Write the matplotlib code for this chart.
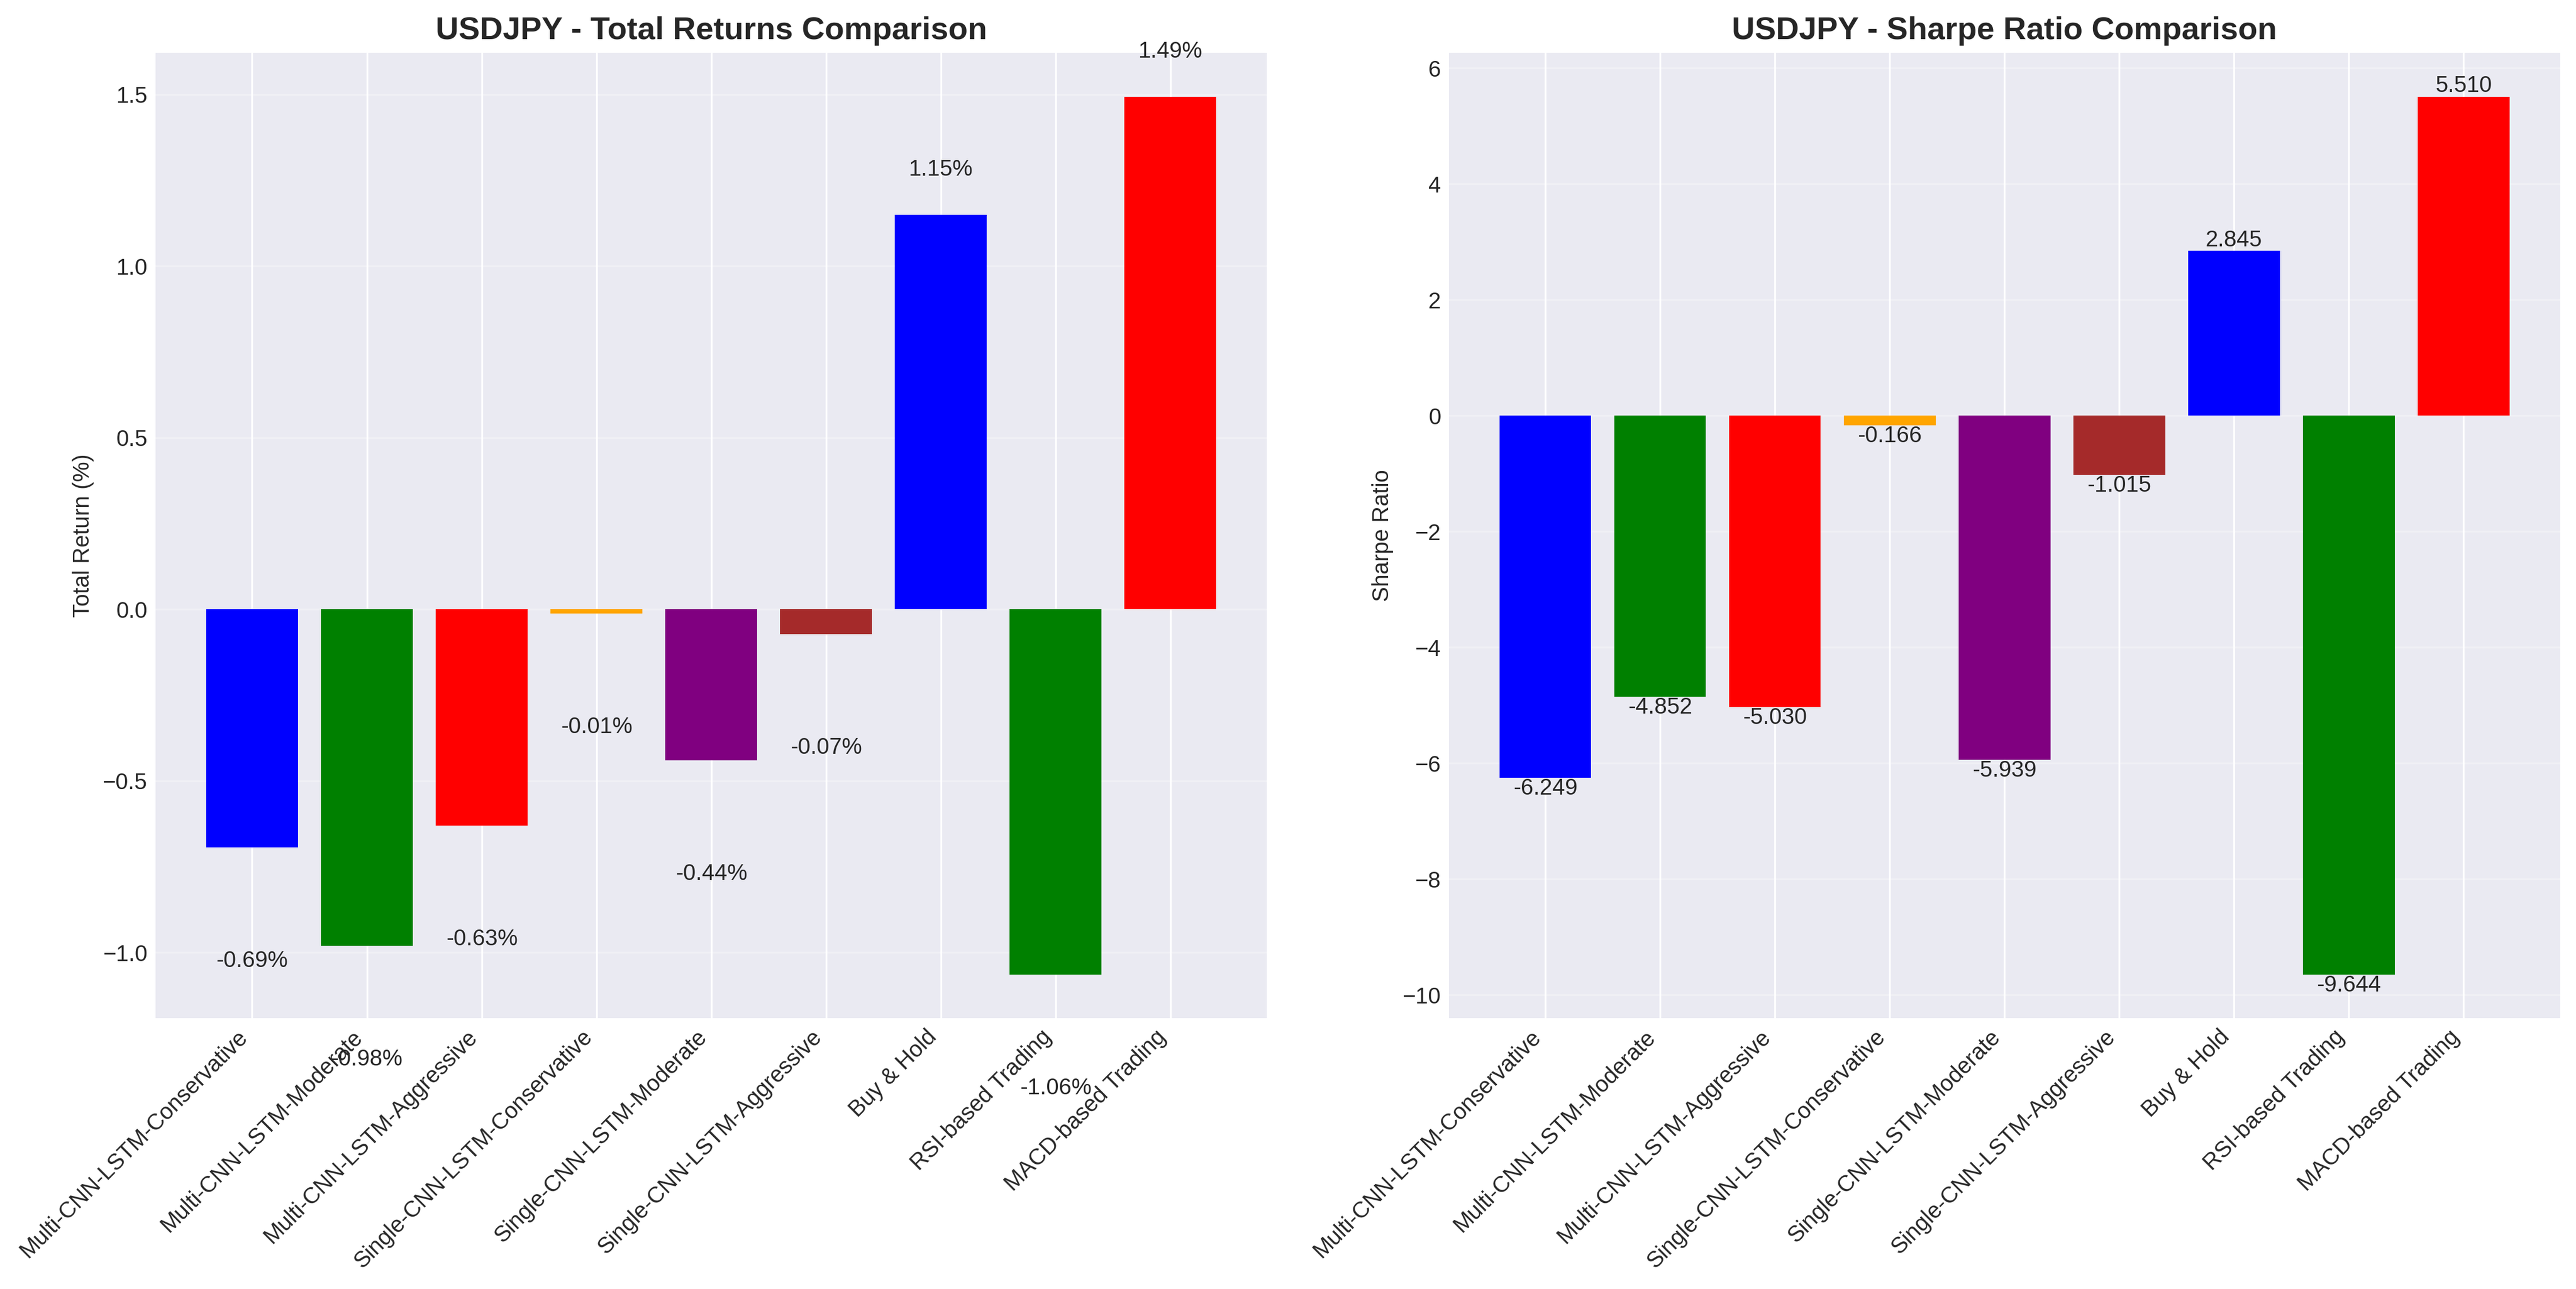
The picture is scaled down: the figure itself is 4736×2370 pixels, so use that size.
import matplotlib
matplotlib.use('Agg')
import matplotlib.pyplot as plt
import numpy as np

# strategies and colours
strategies = ['Multi-CNN-LSTM-Conservative', 'Multi-CNN-LSTM-Moderate',
              'Multi-CNN-LSTM-Aggressive', 'Single-CNN-LSTM-Conservative',
              'Single-CNN-LSTM-Moderate', 'Single-CNN-LSTM-Aggressive',
              'Buy & Hold', 'RSI-based Trading', 'MACD-based Trading']
colors = ['blue', 'green', 'red', 'orange', 'purple', 'brown', 'blue', 'green', 'red']

# values
total_returns = [-0.694, -0.980, -0.630, -0.012, -0.440, -0.072, 1.150, -1.064, 1.494]
sharpe_ratios = [-6.249, -4.852, -5.030, -0.166, -5.939, -1.015, 2.845, -9.644, 5.510]

plt.style.use('seaborn-v0_8-darkgrid')
plt.rcParams['font.family'] = ['Liberation Sans', 'DejaVu Sans']

fig, (ax1, ax2) = plt.subplots(1, 2, figsize=(16, 8))
x = np.arange(len(strategies))

# total returns
bars = ax1.bar(x, total_returns, color=colors)
ax1.set_title('USDJPY - Total Returns Comparison', fontsize=14, fontweight='bold')
ax1.set_ylabel('Total Return (%)')
ax1.set_xticks(x)
ax1.set_xticklabels(strategies, rotation=45, ha='right')
ax1.grid(axis='y', alpha=0.3)
for b in bars:
    h = b.get_height()
    ax1.text(b.get_x() + b.get_width() / 2., h + (0.1 if h >= 0 else -0.3),
             f'{h:.2f}%', ha='center', va='bottom' if h >= 0 else 'top', fontsize=10)

# sharpe ratios
bars = ax2.bar(x, sharpe_ratios, color=colors)
ax2.set_title('USDJPY - Sharpe Ratio Comparison', fontsize=14, fontweight='bold')
ax2.set_ylabel('Sharpe Ratio')
ax2.set_xticks(x)
ax2.set_xticklabels(strategies, rotation=45, ha='right')
ax2.grid(axis='y', alpha=0.3)
for b in bars:
    h = b.get_height()
    ax2.text(b.get_x() + b.get_width() / 2., h,
             f'{h:.3f}', ha='center', va='bottom' if h >= 0 else 'top', fontsize=10)

plt.tight_layout()
plt.savefig('out.png', dpi=300, bbox_inches='tight')
